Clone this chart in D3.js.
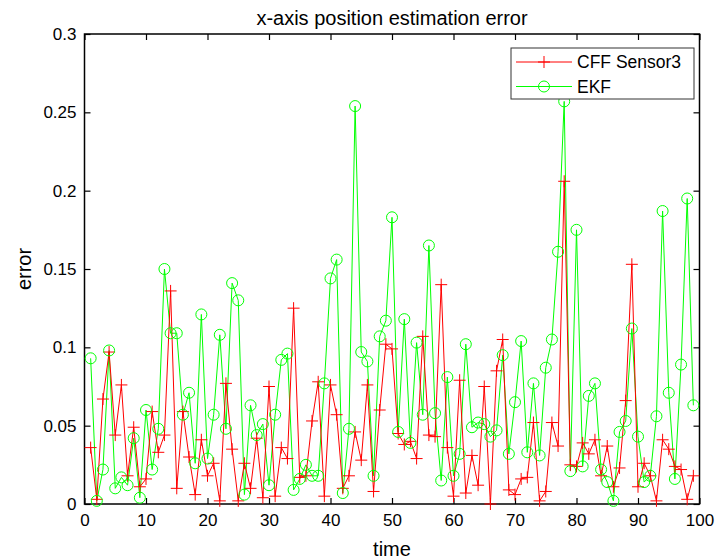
<!DOCTYPE html>
<html>
<head>
<meta charset="utf-8">
<script src="https://cdn.jsdelivr.net/npm/d3@7"></script>
<style>
  body { margin: 0; background: #fff; }
  text { font-family: "Liberation Sans", Arial, sans-serif; }
</style>
</head>
<body>
<div id="chart"></div>
<script>
// data (x = 1..99)
var cff = [0.036, 0.003, 0.067, 0.097, 0.044, 0.076, 0.018, 0.049, 0.011, 0.016,
  0.059, 0.033, 0.044, 0.136, 0.010, 0.059, 0.030, 0.006, 0.041, 0.018,
  0.026, 0.002, 0.077, 0.035, 0.002, 0.026, 0.010, 0.042, 0.004, 0.075,
  0.005, 0.036, 0.029, 0.125, 0.017, 0.018, 0.053, 0.078, 0.005, 0.076,
  0.057, 0.010, 0.018, 0.046, 0.028, 0.076, 0.008, 0.060, 0.102, 0.099,
  0.045, 0.038, 0.040, 0.029, 0.107, 0.044, 0.043, 0.140, 0.036, 0.005,
  0.079, 0.007, 0.031, 0.012, 0.075, 0.000, 0.085, 0.105, 0.009, 0.006,
  0.016, 0.017, 0.052, 0.002, 0.008, 0.052, 0.037, 0.206, 0.025, 0.024,
  0.039, 0.032, 0.041, 0.018, 0.037, 0.011, 0.023, 0.066, 0.153, 0.011,
  0.026, 0.018, 0.002, 0.041, 0.035, 0.024, 0.022, 0.003, 0.018]

var ekf = [0.093, 0.002, 0.022, 0.098, 0.010, 0.017, 0.012, 0.042, 0.004, 0.060,
  0.022, 0.048, 0.150, 0.109, 0.109, 0.057, 0.071, 0.026, 0.121, 0.029,
  0.057, 0.108, 0.048, 0.141, 0.130, 0.006, 0.063, 0.044, 0.051, 0.012,
  0.057, 0.092, 0.096, 0.009, 0.016, 0.025, 0.018, 0.018, 0.077, 0.144,
  0.156, 0.007, 0.048, 0.254, 0.097, 0.091, 0.018, 0.107, 0.117, 0.183,
  0.046, 0.118, 0.039, 0.103, 0.057, 0.165, 0.058, 0.015, 0.081, 0.018,
  0.032, 0.102, 0.049, 0.052, 0.051, 0.043, 0.047, 0.095, 0.032, 0.065,
  0.104, 0.033, 0.077, 0.031, 0.087, 0.105, 0.161, 0.257, 0.021, 0.175,
  0.024, 0.069, 0.077, 0.022, 0.014, 0.002, 0.046, 0.053, 0.112, 0.043,
  0.014, 0.018, 0.056, 0.187, 0.071, 0.016, 0.089, 0.195, 0.063]

var xTicks = [0, 10, 20, 30, 40, 50, 60, 70, 80, 90, 100]
var yTicks = [0, 0.05, 0.1, 0.15, 0.2, 0.25, 0.3]
var yTickLabels = ["0", "0.05", "0.1", "0.15", "0.2", "0.25", "0.3"]
var seriesNames = ["CFF Sensor3", "EKF"]

// set the dimensions and margins of the graph
var margin = { top: 34, right: 16.5, bottom: 55, left: 84.5 },
  width = 716 - margin.left - margin.right,
  height = 559 - margin.top - margin.bottom;

var svg = d3.select("#chart")
  .append("svg")
  .attr("width", 716)
  .attr("height", 559)

var g = svg.append("g")
  .attr("transform", "translate(" + margin.left + "," + margin.top + ")");

var xScale = d3.scaleLinear().domain([0, 100]).range([0, width]),
  yScale = d3.scaleLinear().domain([0, 0.3]).range([height, 0]);

// axes, ticks pointing inwards on all four sides
var fs = 17;
g.append("g")
  .attr("transform", "translate(0," + height + ")")
  .call(d3.axisBottom(xScale).tickValues(xTicks).tickSizeInner(-6).tickSizeOuter(0).tickPadding(10))
  .call(a => a.selectAll("text").attr("font-size", fs).attr("fill", "#000"));
g.append("g")
  .call(d3.axisTop(xScale).tickValues(xTicks).tickSizeInner(-6).tickSizeOuter(0).tickFormat(""));
g.append("g")
  .call(d3.axisLeft(yScale).tickValues(yTicks).tickSizeInner(-6).tickSizeOuter(0).tickPadding(8)
    .tickFormat(function (d, i) { return yTickLabels[i]; }))
  .call(a => a.selectAll("text").attr("font-size", fs).attr("fill", "#000"));
g.append("g")
  .attr("transform", "translate(" + width + ",0)")
  .call(d3.axisRight(yScale).tickValues(yTicks).tickSizeInner(-6).tickSizeOuter(0).tickFormat(""));

g.selectAll(".domain").remove();
g.selectAll(".tick line").attr("stroke", "#000").attr("stroke-width", 1.2);

// box
g.append("rect")
  .attr("x", 0).attr("y", 0)
  .attr("width", width).attr("height", height)
  .style("fill", "none")
  .style("stroke", "#000")
  .style("stroke-width", 1.5);

var line = d3.line()
  .x(function (d, i) { return xScale(i + 1); })
  .y(function (d) { return yScale(d); });

// EKF (green, circles)
g.append("path").datum(ekf)
  .attr("d", line)
  .style("fill", "none").style("stroke", "#00ff00").style("stroke-width", 1);

// CFF (red, plus)
g.append("path").datum(cff)
  .attr("d", line)
  .style("fill", "none").style("stroke", "#ff0000").style("stroke-width", 1);

var ms = 6;
var plusPath = function (cx, cy) {
  return "M" + (cx - ms) + "," + cy + "H" + (cx + ms) + "M" + cx + "," + (cy - ms) + "V" + (cy + ms);
};

g.selectAll(".plus")
  .data(cff)
  .enter().append("path")
  .attr("class", "plus")
  .attr("d", function (d, i) { return plusPath(xScale(i + 1), yScale(d)); })
  .style("stroke", "#ff0000").style("stroke-width", 1).style("fill", "none");

g.selectAll(".circ")
  .data(ekf)
  .enter().append("circle")
  .attr("class", "circ")
  .attr("cx", function (d, i) { return xScale(i + 1); })
  .attr("cy", function (d) { return yScale(d); })
  .attr("r", 5.5)
  .style("stroke", "#00ff00").style("stroke-width", 1).style("fill", "none");

// title and labels
svg.append("text")
  .attr("x", margin.left + width / 2)
  .attr("y", 25)
  .attr("text-anchor", "middle")
  .attr("font-size", 20)
  .text("x-axis position estimation error");

svg.append("text")
  .attr("x", margin.left + width / 2)
  .attr("y", 556)
  .attr("text-anchor", "middle")
  .attr("font-size", 20)
  .text("time");

svg.append("text")
  .attr("transform", "translate(31," + (margin.top + height / 2) + ") rotate(-90)")
  .attr("text-anchor", "middle")
  .attr("font-size", 20)
  .text("error");

// legend
var lg = svg.append("g").attr("transform", "translate(511,48)");
lg.append("rect")
  .attr("width", 183).attr("height", 51)
  .style("fill", "#fff").style("stroke", "#333").style("stroke-width", 1);

var legendColors = ["#ff0000", "#00ff00"];
seriesNames.forEach(function (name, k) {
  var yy = 14 + k * 24.5;
  lg.append("line")
    .attr("x1", 5).attr("x2", 61).attr("y1", yy).attr("y2", yy)
    .style("stroke", legendColors[k]).style("stroke-width", 1);
  if (k === 0) {
    lg.append("path").attr("d", plusPath(33, yy))
      .style("stroke", legendColors[k]).style("fill", "none");
  } else {
    lg.append("circle").attr("cx", 33).attr("cy", yy).attr("r", 5.5)
      .style("stroke", legendColors[k]).style("fill", "none");
  }
  lg.append("text")
    .attr("x", 66).attr("y", yy)
    .attr("dy", "0.35em")
    .attr("font-size", 17.5)
    .text(name);
});
</script>
</body>
</html>
